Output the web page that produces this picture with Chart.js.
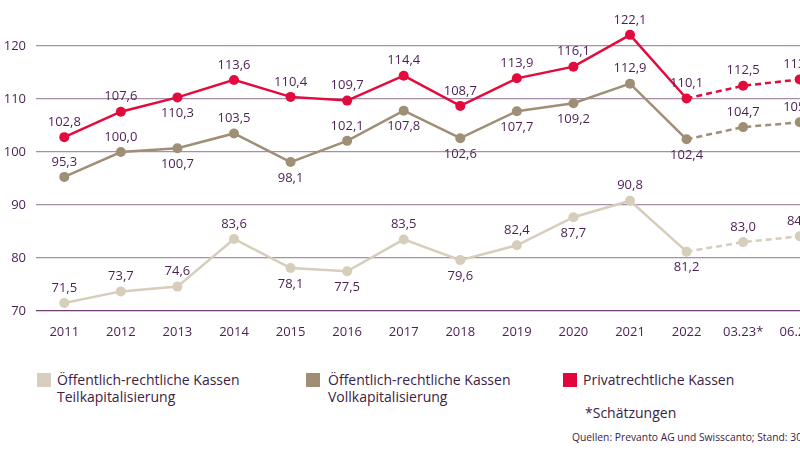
<!DOCTYPE html>
<html>
<head>
<meta charset="utf-8">
<script src="https://cdn.jsdelivr.net/npm/chart.js@4"></script>
<style>
  html, body { margin: 0; padding: 0; background: #fff; overflow: hidden; width: 800px; height: 460px; }
  body { position: relative; font-family: "Open Sans", sans-serif; color: #3b2245; }
  #wrap { position: absolute; left: 0; top: 0; width: 840px; height: 345px; }
  .sq { position: absolute; width: 14px; height: 14px; }
  .lg { position: absolute; font-size: 14px; line-height: 17px; white-space: nowrap; }
</style>
</head>
<body>
<div id="wrap"><canvas id="chart"></canvas></div>

<div class="sq" style="left:37px;top:373px;background:#d8cebd"></div>
<div class="lg" style="left:57px;top:371px">Öffentlich-rechtliche Kassen<br>Teilkapitalisierung</div>
<div class="sq" style="left:306px;top:373px;background:#a08e74"></div>
<div class="lg" style="left:328px;top:371px">Öffentlich-rechtliche Kassen<br>Vollkapitalisierung</div>
<div class="sq" style="left:563px;top:373px;background:#e2063e"></div>
<div class="lg" style="left:583px;top:371px">Privatrechtliche Kassen</div>
<div class="lg" style="left:585px;top:404px">*Schätzungen</div>
<div class="lg" style="left:572px;top:431px;font-size:10.3px;line-height:13px">Quellen: Prevanto AG und Swisscanto; Stand: 30.06.2023</div>

<script>
// Kategorien und Werte
const categories = ['2011', '2012', '2013', '2014', '2015', '2016', '2017', '2018', '2019', '2020', '2021', '2022', '03.23*', '06.23*'];
const teilkap = [71.5, 73.7, 74.6, 83.6, 78.1, 77.5, 83.5, 79.6, 82.4, 87.7, 90.8, 81.2, 83.0, 84.1];
const vollkap = [95.3, 100.0, 100.7, 103.5, 98.1, 102.1, 107.8, 102.6, 107.7, 109.2, 112.9, 102.4, 104.7, 105.6];
const privat = [102.8, 107.6, 110.3, 113.6, 110.4, 109.7, 114.4, 108.7, 113.9, 116.1, 122.1, 110.1, 112.5, 113.7];
const yTicks = [70, 80, 90, 100, 110, 120];

// Lage der Werte-Beschriftung (o = oben, u = unten)
const teilkapPos = ['o', 'o', 'o', 'o', 'u', 'u', 'o', 'u', 'o', 'u', 'o', 'u', 'o', 'o'];
const vollkapPos = ['o', 'o', 'u', 'o', 'u', 'o', 'u', 'u', 'u', 'u', 'o', 'u', 'o', 'o'];
const privatPos = ['o', 'o', 'u', 'o', 'o', 'o', 'o', 'o', 'o', 'o', 'o', 'o', 'o', 'o'];

const textColor = '#4a1f52';
const firstEstimate = 11; // ab 2022 gestrichelt

function makeSet(label, data, color, pos) {
    return {
        label: label,
        data: data,
        borderColor: color,
        backgroundColor: color,
        borderWidth: 2.5,
        pointRadius: 5,
        pointBorderWidth: 0,
        pointHoverRadius: 5,
        tension: 0,
        labelPos: pos,
        segment: {
            borderDash: ctx => ctx.p0DataIndex >= firstEstimate ? [6, 4] : undefined
        }
    };
}

// Werte an die Punkte schreiben
const valueLabels = {
    id: 'valueLabels',
    afterDatasetsDraw(chart) {
        const c = chart.ctx;
        c.save();
        c.font = '13px "Open Sans", sans-serif';
        c.fillStyle = textColor;
        c.textAlign = 'center';
        c.textBaseline = 'middle';
        chart.data.datasets.forEach((ds, i) => {
            chart.getDatasetMeta(i).data.forEach((pt, j) => {
                const dy = ds.labelPos[j] === 'u' ? 16 : -15;
                c.fillText(ds.data[j].toFixed(1).replace('.', ','), pt.x, pt.y + dy);
            });
        });
        c.restore();
    }
};

new Chart(document.getElementById('chart'), {
    type: 'line',
    data: {
        labels: categories,
        datasets: [
            makeSet('Öffentlich-rechtliche Kassen Teilkapitalisierung', teilkap, '#d6cdbb', teilkapPos),
            makeSet('Öffentlich-rechtliche Kassen Vollkapitalisierung', vollkap, '#a08f77', vollkapPos),
            makeSet('Privatrechtliche Kassen', privat, '#e30b3d', privatPos)
        ]
    },
    options: {
        responsive: true,
        maintainAspectRatio: false,
        animation: false,
        layout: { padding: { top: 19.5, right: 12, left: 0, bottom: 0 } },
        plugins: {
            legend: { display: false },
            tooltip: { enabled: false }
        },
        scales: {
            x: {
                offset: true,
                grid: { display: false },
                border: { display: false },
                ticks: {
                    color: textColor,
                    font: { family: 'Open Sans', size: 13 },
                    padding: 5,
                    maxRotation: 0,
                    autoSkip: false
                },
                afterFit: s => { s.height = 34; }
            },
            y: {
                min: 70,
                max: 125,
                border: { display: false },
                afterBuildTicks: s => { s.ticks = yTicks.map(v => ({ value: v })); },
                afterFit: s => { s.width = 36; },
                grid: {
                    drawTicks: false,
                    lineWidth: 1.2,
                    color: ctx => ctx.tick && ctx.tick.value === 70 ? '#6e3f72' : '#a88ea9'
                },
                ticks: {
                    color: textColor,
                    font: { family: 'Open Sans', size: 13 },
                    padding: 10
                }
            }
        }
    },
    plugins: [valueLabels]
});
</script>
</body>
</html>
